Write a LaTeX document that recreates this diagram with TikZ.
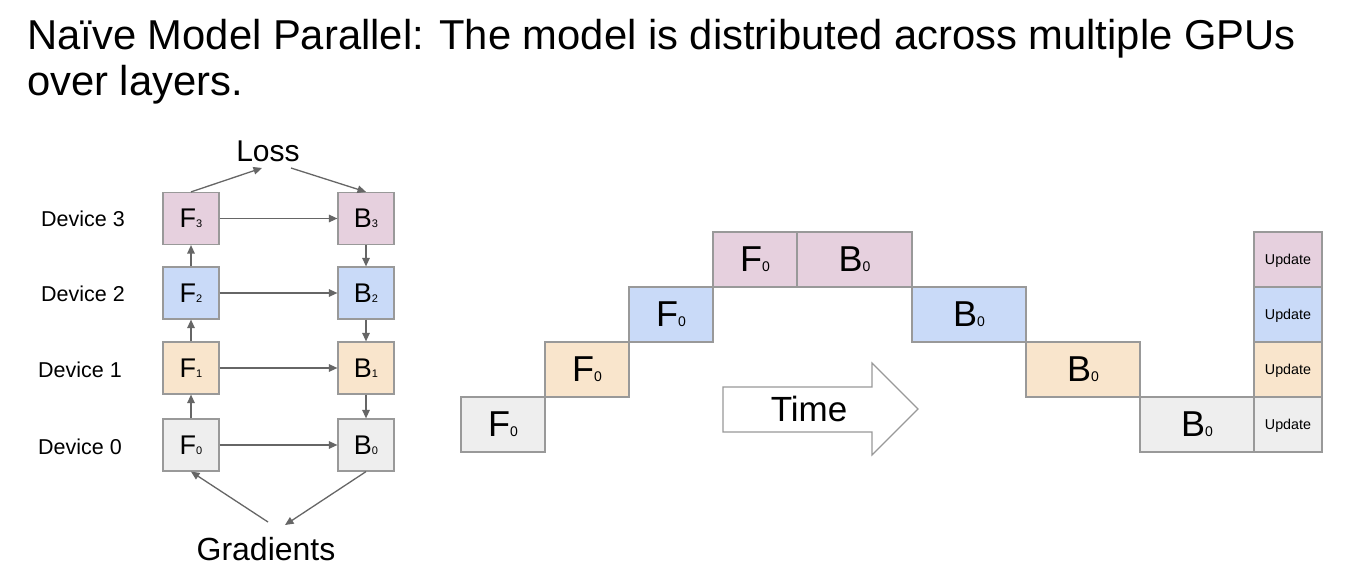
\documentclass[tikz,border=0pt]{standalone}
\usepackage{fontspec}
\setmainfont{Liberation Sans}
\usetikzlibrary{arrows.meta}
\definecolor{cpink}{HTML}{E6D0DE}
\definecolor{cblue}{HTML}{C9DAF8}
\definecolor{corange}{HTML}{F9E5CC}
\definecolor{cgray}{HTML}{EEEEEE}
\definecolor{cborder}{HTML}{999999}
\definecolor{carrow}{HTML}{666666}
\newcommand{\smlab}[2]{{\fontsize{27}{27}\selectfont #1}{\fontsize{11}{11}\selectfont #2}}
\newcommand{\biglab}[2]{{\fontsize{36}{36}\selectfont #1}{\fontsize{14}{14}\selectfont #2}}
\tikzset{
  devbox/.style={draw=cborder, line width=1.2pt, minimum width=56pt, minimum height=52pt, inner sep=0pt},
  devlabel/.style={font=\fontsize{21.5}{21.5}\selectfont, inner sep=0pt},
  arr/.style={draw=carrow, line width=1.3pt, -{Triangle[length=8.5pt,width=7.5pt]}},
  gbox/.style={draw=cborder, line width=1.2pt, minimum height=55pt, inner sep=0pt},
  upbox/.style={gbox, minimum width=68pt, text depth=0pt, font=\fontsize{14.3}{14.3}\selectfont},
}
\begin{document}
\begin{tikzpicture}[x=1pt,y=-1pt]
\useasboundingbox[fill=white] (0,0) rectangle (1348,569);
% title
\node[anchor=base west, inner sep=0pt, font=\fontsize{41.75}{50}\selectfont] (t1) at (27,50) {Naïve Model Parallel: The model is distributed across multiple GPUs};
\node[anchor=base west, inner sep=0pt, font=\fontsize{41.75}{50}\selectfont] (t2) at (27,95.5) {over layers.};
% left diagram
\node[devbox, fill=cpink]   (F3) at (191,218.5) {\smlab{F}{3}};
\node[devbox, fill=cblue]   (F2) at (191,293)   {\smlab{F}{2}};
\node[devbox, fill=corange] (F1) at (191,368)   {\smlab{F}{1}};
\node[devbox, fill=cgray]   (F0) at (191,445)   {\smlab{F}{0}};
\node[devbox, fill=cpink]   (B3) at (366,218.5) {\smlab{B}{3}};
\node[devbox, fill=cblue]   (B2) at (366,293)   {\smlab{B}{2}};
\node[devbox, fill=corange] (B1) at (366,368)   {\smlab{B}{1}};
\node[devbox, fill=cgray]   (B0) at (366,445)   {\smlab{B}{0}};
\node[devlabel] (d3) at (83,218.5) {Device 3};
\node[devlabel] (d2) at (83,294)   {Device 2};
\node[devlabel] (d1) at (80,370)   {Device 1};
\node[devlabel] (d0) at (80,447)   {Device 0};
\node[anchor=base, inner sep=0pt, font=\fontsize{30}{30}\selectfont] (loss) at (268,162) {Loss};
\node[anchor=base, inner sep=0pt, font=\fontsize{32}{32}\selectfont] (grad) at (266,560) {Gradients};
\coordinate (lossL) at (262,168);
\coordinate (lossR) at (291,168);
\coordinate (gradL) at (268,522);
\coordinate (gradR) at (285,525);
\draw[arr] (F0) -- (F1);
\draw[arr] (F1) -- (F2);
\draw[arr] (F2) -- (F3);
\draw[arr] (B3) -- (B2);
\draw[arr] (B2) -- (B1);
\draw[arr] (B1) -- (B0);
\draw[arr] (F3) -- (B3);
\draw[arr] (F2) -- (B2);
\draw[arr] (F1) -- (B1);
\draw[arr] (F0) -- (B0);
\draw[arr] (F3.north) -- (lossL);
\draw[arr] (lossR) -- (B3.north);
\draw[arr] (gradL) -- (F0.south);
\draw[arr] (B0.south) -- (gradR);
% timeline
\node[gbox, fill=cgray,   minimum width=84pt] (g1) at (503,424.5) {\biglab{F}{0}};
\node[gbox, fill=corange, minimum width=84pt] (g2) at (587,369.5) {\biglab{F}{0}};
\node[gbox, fill=cblue,   minimum width=84pt] (g3) at (671,314.5) {\biglab{F}{0}};
\node[gbox, fill=cpink,   minimum width=84pt] (g4) at (755,259.5) {\biglab{F}{0}};
\node[gbox, fill=cpink,   minimum width=115pt] (h4) at (854.5,259.5) {\biglab{B}{0}};
\node[gbox, fill=cblue,   minimum width=114pt] (h3) at (969,314.5) {\biglab{B}{0}};
\node[gbox, fill=corange, minimum width=114pt] (h2) at (1083,369.5) {\biglab{B}{0}};
\node[gbox, fill=cgray,   minimum width=114pt] (h1) at (1197,424.5) {\biglab{B}{0}};
\node[upbox, fill=cpink]   (u4) at (1288,259.5) {Update};
\node[upbox, fill=cblue]   (u3) at (1288,314.5) {Update};
\node[upbox, fill=corange] (u2) at (1288,369.5) {Update};
\node[upbox, fill=cgray]   (u1) at (1288,424.5) {Update};
% time arrow
\draw[draw=cborder, line width=1.1pt, fill=white] (723,387) -- (872,387) -- (872,363) -- (918,409) -- (872,455) -- (872,432) -- (723,432) -- cycle;
\node[inner sep=0pt, anchor=base, font=\fontsize{35}{35}\selectfont] (time) at (809,421.5) {Time};
\end{tikzpicture}
\end{document}
